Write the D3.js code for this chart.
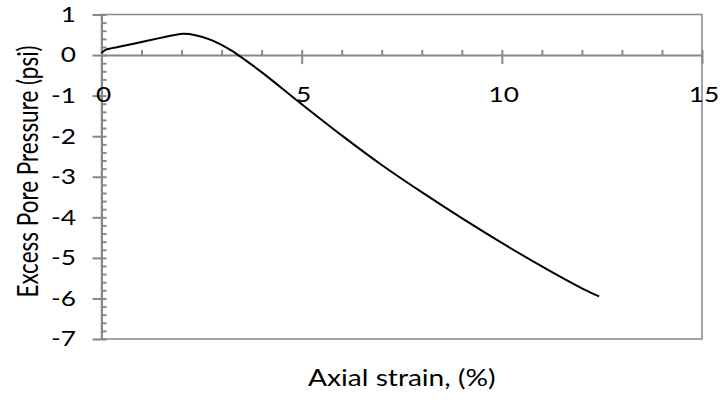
<!DOCTYPE html>
<html><head><meta charset="utf-8">
<script src="https://cdn.jsdelivr.net/npm/d3@7"></script>
<style>body{margin:0;background:#fff}svg{display:block}text{font-family:Lato,"Open Sans",sans-serif;fill:#000}</style>
</head><body><div id="chart"></div>
<script>
const strain = [0, 0.1, 0.5, 1.0, 1.5, 1.8, 2.05, 2.35, 2.75, 3.25, 3.6, 4.0, 5.0, 6.0, 7.0, 8.0, 9.0, 10.0, 11.0, 12.0, 12.43];
const pressure = [0.05, 0.13, 0.215, 0.32, 0.43, 0.49, 0.525, 0.49, 0.37, 0.11, -0.13, -0.42, -1.21, -1.98, -2.71, -3.38, -4.02, -4.63, -5.21, -5.75, -5.95];
const xTicks = [0, 5, 10, 15];
const yTicks = [1, 0, -1, -2, -3, -4, -5, -6, -7];
const xTitle = "Axial strain, (%)";
const yTitle = "Excess Pore Pressure (psi)";

const W = 727, H = 401;
const L = 101.5, R = 702, T = 14.5, B = 339;
const SX = 1.25;
const svg = d3.select("#chart").append("svg").attr("width", W).attr("height", H);
const x = d3.scaleLinear().domain([0, 15]).range([L, R]);
const y = d3.scaleLinear().domain([-7, 1]).range([B, T]);
const grey = "#878787";

svg.append("rect").attr("x", L).attr("y", T).attr("width", R - L).attr("height", B - T)
  .attr("fill", "none").attr("stroke", grey).attr("stroke-width", 1.5);

const yMinor = d3.range(-7, 1.0001, 0.2).filter(v => Math.abs(v - Math.round(v)) > 1e-6);
const yAx = svg.append("g").attr("transform", `translate(${x(0)},0)`)
  .call(d3.axisLeft(y).tickValues(yTicks).tickSize(9).tickSizeOuter(0).tickFormat(""));
yAx.select(".domain").attr("stroke", grey).attr("stroke-width", 2);
yAx.selectAll(".tick line").attr("stroke", grey).attr("stroke-width", 2).attr("x2", -9).attr("x1", 5);
svg.append("g").attr("transform", `translate(${x(0)},0)`)
  .call(d3.axisRight(y).tickValues(yMinor).tickSize(5).tickSizeOuter(0).tickFormat(""))
  .call(g => g.select(".domain").remove())
  .selectAll(".tick line").attr("stroke", grey).attr("stroke-width", 2);
svg.append("g").selectAll("text").data(yTicks).join("text")
  .attr("transform", d => `translate(76,${y(d) + 2}) scale(${SX},1)`).attr("text-anchor", "end")
  .attr("dominant-baseline", "middle").attr("font-size", 21).text(d => String(d));

const xMinor = d3.range(0, 15.0001, 1).filter(v => v % 5 !== 0);
const xAx = svg.append("g").attr("transform", `translate(0,${y(0)})`)
  .call(d3.axisBottom(x).tickValues(xTicks).tickSize(9).tickSizeOuter(0).tickFormat(""));
xAx.select(".domain").attr("stroke", grey).attr("stroke-width", 2);
xAx.selectAll(".tick line").attr("stroke", grey).attr("stroke-width", 2).attr("y1", -5).attr("y2", 9);
svg.append("g").attr("transform", `translate(0,${y(0)})`)
  .call(d3.axisTop(x).tickValues(xMinor).tickSize(5).tickSizeOuter(0).tickFormat(""))
  .call(g => g.select(".domain").remove())
  .selectAll(".tick line").attr("stroke", grey).attr("stroke-width", 2);
svg.append("g").selectAll("text").data(xTicks).join("text")
  .attr("transform", d => `translate(${x(d) + 2},${y(0) + 47}) scale(${SX},1)`).attr("text-anchor", "middle")
  .attr("font-size", 21).text(d => d);

const pts = strain.map((s, i) => [s, pressure[i]]);
svg.append("path").datum(pts)
  .attr("d", d3.line().x(d => x(d[0])).y(d => y(d[1])).curve(d3.curveCatmullRom.alpha(0.5)))
  .attr("fill", "none").attr("stroke", "#000").attr("stroke-width", 2);

svg.append("text").attr("transform", `translate(${(L + R) / 2},386) scale(${SX},1)`).attr("text-anchor", "middle")
  .attr("font-size", 22.5).text(xTitle);
svg.append("text").attr("transform", `translate(38,171.5) scale(${SX},1) rotate(-90)`)
  .attr("text-anchor", "middle").attr("font-size", 22.5).text(yTitle);
</script></body></html>
